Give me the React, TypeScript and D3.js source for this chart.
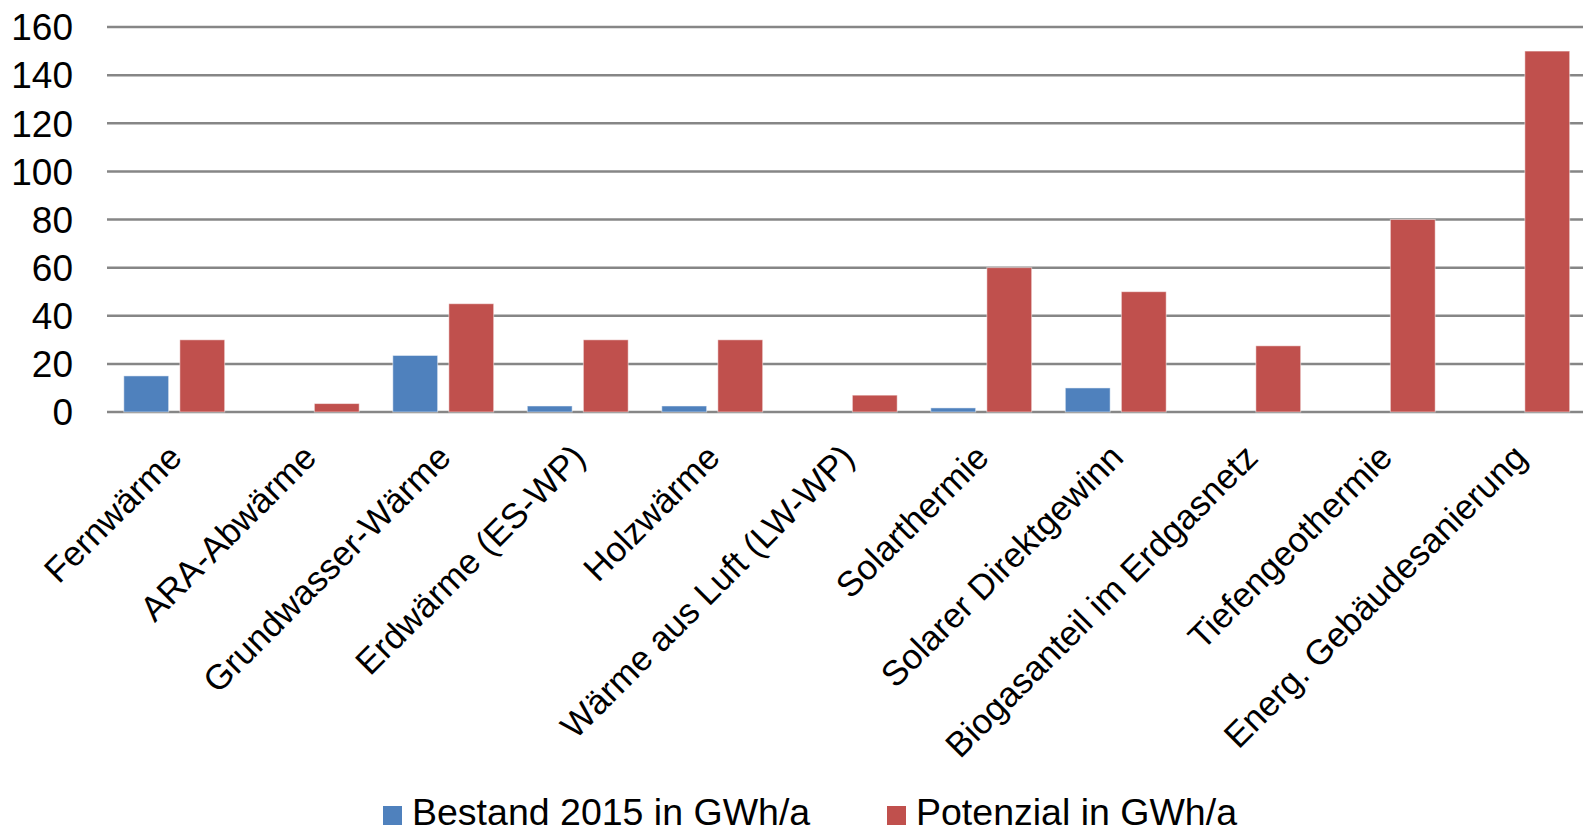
import React, { useEffect, useRef } from "react";
import * as d3 from "d3";

const categories = [
  "Fernwärme",
  "ARA-Abwärme",
  "Grundwasser-Wärme",
  "Erdwärme (ES-WP)",
  "Holzwärme",
  "Wärme aus Luft (LW-WP)",
  "Solarthermie",
  "Solarer Direktgewinn",
  "Biogasanteil im Erdgasnetz",
  "Tiefengeothermie",
  "Energ. Gebäudesanierung",
];
const bestand = [15, 0, 23.5, 2.5, 2.5, 0, 1.7, 10, 0, 0, 0];
const potenzial = [30, 3.5, 45, 30, 30, 7, 60, 50, 27.5, 80, 150];
const seriesNames = ["Bestand 2015 in GWh/a", "Potenzial in GWh/a"];
const seriesColors = ["#4F81BD", "#C0504D"];
const yTicks = [0, 20, 40, 60, 80, 100, 120, 140, 160];

const W = 1583;
const H = 835;
const FONT = "'Liberation Sans', Arial, sans-serif";

export default function App() {
  const ref = useRef<SVGSVGElement>(null);
  useEffect(() => {
    const svg = d3.select(ref.current);
    svg.selectAll("*").remove();
    const left = 107;
    const right = 1586.5;
    const y0 = 412;
    const yTop = 27;
    const x0 = d3.scaleBand<string>().domain(categories).range([left, right]).paddingInner(0).paddingOuter(0);
    const x1 = d3.scaleBand<string>().domain(seriesNames).range([0, x0.bandwidth()]).paddingInner(0.2).paddingOuter(0.3);
    const y = d3.scaleLinear().domain([0, 160]).range([y0, yTop]);

    const g = svg.append("g");
    g.selectAll("line.grid")
      .data(yTicks)
      .enter()
      .append("line")
      .attr("x1", left)
      .attr("x2", W)
      .attr("y1", (d) => y(d))
      .attr("y2", (d) => y(d))
      .attr("stroke", "#868686")
      .attr("stroke-width", 2.5);

    g.selectAll("text.ylab")
      .data(yTicks)
      .enter()
      .append("text")
      .attr("x", 73)
      .attr("y", (d) => y(d))
      .attr("dy", "0.36em")
      .attr("text-anchor", "end")
      .attr("font-family", FONT)
      .attr("font-size", 37)
      .attr("fill", "#000")
      .text((d) => String(d));

    const data = [bestand, potenzial];
    data.forEach((vals, si) => {
      g.selectAll(`rect.s${si}`)
        .data(vals.map((v, i) => ({ v, c: categories[i] })))
        .enter()
        .append("rect")
        .filter((d) => d.v > 0)
        .attr("x", (d) => (x0(d.c) as number) + (x1(seriesNames[si]) as number))
        .attr("width", x1.bandwidth())
        .attr("y", (d) => y(d.v))
        .attr("height", (d) => y0 - y(d.v))
        .attr("fill", seriesColors[si])
        .attr("stroke", "#ffffff")
        .attr("stroke-opacity", 0.5)
        .attr("stroke-width", 1);
    });

    g.selectAll("text.xlab")
      .data(categories)
      .enter()
      .append("text")
      .attr("transform", (d) => `translate(${(x0(d) as number) + x0.bandwidth() / 2 - 8},${442}) rotate(-45)`)
      .attr("dy", "0.71em")
      .attr("text-anchor", "end")
      .attr("font-family", FONT)
      .attr("font-size", 35)
      .attr("fill", "#000")
      .text((d) => d);

    const legendItems = [
      { name: seriesNames[0], color: seriesColors[0], x: 383 },
      { name: seriesNames[1], color: seriesColors[1], x: 887 },
    ];
    const lg = g.selectAll("g.leg").data(legendItems).enter().append("g");
    lg.append("rect")
      .attr("x", (d) => d.x)
      .attr("y", 806)
      .attr("width", 19)
      .attr("height", 19)
      .attr("fill", (d) => d.color);
    lg.append("text")
      .attr("x", (d) => d.x + 29)
      .attr("y", 825)
      .attr("font-family", FONT)
      .attr("font-size", 37.5)
      .attr("fill", "#000")
      .text((d) => d.name);
  }, []);
  return (
    <svg
      ref={ref}
      width={W}
      height={H}
      style={{ position: "absolute", left: 0, top: 0, background: "#fff" }}
    />
  );
}
